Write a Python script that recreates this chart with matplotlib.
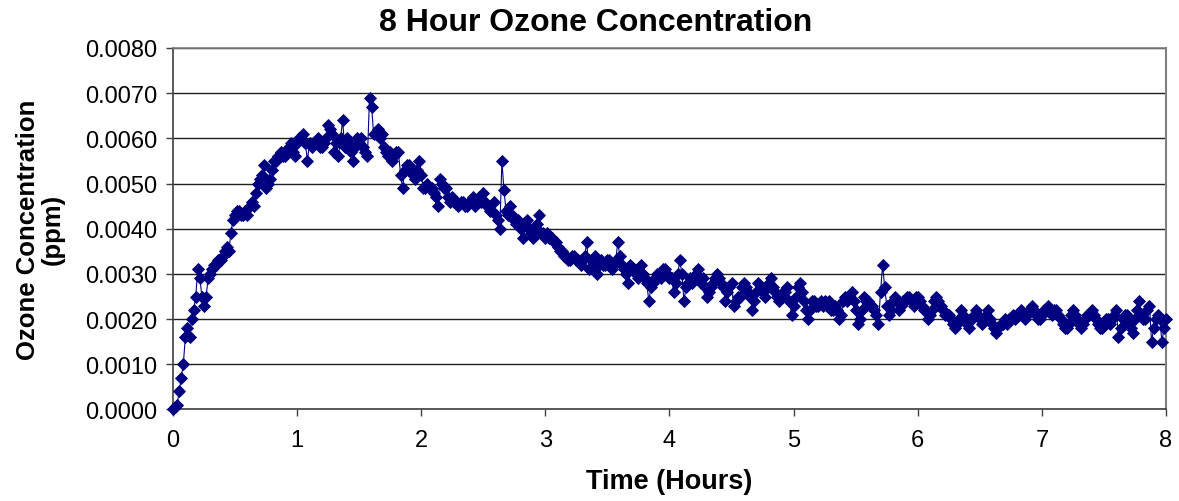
"""Recreate the 8 hour ozone concentration chart (one reading per minute)."""

import matplotlib

matplotlib.use("Agg")
import matplotlib.pyplot as plt
import numpy as np
from matplotlib.axes import Axes

plt.rcParams["font.family"] = ["Liberation Sans", "DejaVu Sans"]

# ozone readings in units of 1e-4 ppm, one per minute from t = 0 to t = 480 min
ozone_e4 = [
    0, 0.5, 1, 4, 7, 10, 16, 18, 16, 20, 22, 25, 31, 29, 25, 23, 25, 29, 30, 31,
    32, 32, 33, 33, 34, 35, 36, 35, 39, 42, 43, 44, 44, 43, 43, 44, 43, 45, 46, 45,
    48, 50, 51, 52, 54, 49, 50, 51, 53, 55, 55, 56, 57, 56, 56, 57, 58, 59, 57, 56,
    59, 60, 60, 61, 59, 55, 59, 58, 59, 59, 60, 58, 58, 59, 60, 63, 62, 61, 57, 59,
    56, 60, 64, 58, 60, 59, 57, 55, 58, 60, 59, 60, 58, 57, 56, 69, 67, 61, 61, 62,
    60, 61, 58, 57, 56, 57, 55, 56, 57, 57, 52, 49, 53, 54, 54, 53, 52, 51, 53, 55,
    52, 49, 49, 50, 49, 49, 48, 47, 45, 51, 50, 49, 49, 47, 46, 47, 46, 46, 45, 46,
    46, 45, 45, 46, 46, 47, 45, 46, 47, 46, 48, 46, 45, 44, 44, 46, 43, 42, 40, 55,
    48.5, 44, 43, 45, 43, 42, 41, 42, 40, 38, 41, 42, 40, 39, 38, 40, 41, 43, 39, 39,
    38, 39, 38, 38, 37, 37, 36, 35, 35, 34, 34, 33, 33, 34, 34, 33, 33, 32, 33, 34,
    37, 31, 33, 32, 34, 30, 32, 33, 32, 32, 33, 33, 31, 32, 33, 37, 34, 32, 31, 30,
    28, 32, 31, 31, 30, 29, 32, 30, 29, 28, 24, 27, 28, 29, 30, 30, 29, 31, 31, 30,
    29, 29, 26, 28, 30, 33, 30, 24, 27, 28, 29, 28, 29, 30, 31, 28, 29, 27, 25, 26,
    27, 28, 29, 30, 29, 28, 27, 24, 26, 27, 28, 23, 24, 25, 25, 27, 28, 27, 26, 25,
    22, 24, 26, 28, 27, 26, 25, 27, 28, 29, 27, 26, 25, 24, 25, 26, 26, 27, 24, 21,
    23, 25, 27, 28, 26, 24, 22, 20, 22, 24, 24, 23, 23, 24, 23, 24, 23, 24, 22, 22,
    23, 22, 20, 21, 24, 25, 24, 25, 26, 24, 22, 19, 20, 22, 25, 24, 24, 23, 23, 22,
    21, 19, 26, 32, 27, 23, 21, 22, 24, 25, 24, 22, 23, 24, 24, 25, 25, 24, 23, 25,
    25, 24, 23, 22, 22, 20, 21, 22, 24, 25, 24, 23, 22, 21, 21, 21, 20, 19, 18, 19,
    20, 22, 21, 20, 19, 18, 20, 21, 22, 21, 20, 19, 20, 21, 22, 20, 19, 18, 17, 18,
    19, 19, 20, 19, 20, 20, 21, 20, 21, 21, 22, 21, 20, 21, 22, 23, 22, 21, 20, 20,
    21, 22, 22, 23, 22, 21, 22, 22, 21, 20, 19, 18, 18, 19, 21, 22, 21, 20, 19, 18,
    19, 20, 21, 21, 22, 21, 20, 19, 18, 18, 19, 20, 20, 19, 20, 21, 22, 16, 18, 20,
    21, 21, 19, 18, 17, 20, 22, 24, 21, 20, 20, 22, 23, 15, 18, 20, 21, 20, 15, 18,
    20,
]
minutes = list(range(len(ozone_e4)))
x_ticks = [0, 1, 2, 3, 4, 5, 6, 7, 8]
y_ticks = [0.0, 0.001, 0.002, 0.003, 0.004, 0.005, 0.006, 0.007, 0.008]

NAVY = "#000080"


def configure_axes(ax: Axes) -> None:
    """Excel-like look: horizontal grid, outward ticks, grey frame."""
    ax.set_xlim(0, 8)
    ax.set_ylim(0, 0.008)
    ax.set_xticks(x_ticks)
    ax.set_yticks(y_ticks, labels=[f"{t:.4f}" for t in y_ticks])
    ax.tick_params(direction="out", length=5, width=1, color="#404040",
                   labelsize=17)
    ax.tick_params(axis="x", pad=9)
    ax.tick_params(axis="y", pad=6)
    ax.grid(axis="y", color="#202020", linewidth=1.0)
    ax.set_axisbelow(True)
    for side in ["left", "bottom"]:
        ax.spines[side].set_color("#404040")
        ax.spines[side].set_linewidth(1.2)
    ax.spines["right"].set_color("#808080")
    ax.spines["right"].set_linewidth(1.5)
    ax.spines["top"].set_color("#808080")
    ax.spines["top"].set_linewidth(1.2)


def main():
    """Draw the ozone series and save it to out.png."""
    hours = np.array(minutes) / 60.0
    ozone = np.array(ozone_e4) * 1e-4

    fig = plt.figure(figsize=(11.79, 5.02), dpi=100)
    ax = fig.add_axes([0.1467, 0.1823, 0.8423, 0.7201])
    ax.plot(hours, ozone, color=NAVY, linewidth=0.8, marker="D",
            markersize=5.8, markeredgewidth=0.6, clip_on=False, zorder=3)
    configure_axes(ax)

    fig.text(0.505, 0.954, "8 Hour Ozone Concentration", fontweight="bold",
             fontsize=23, ha="center", va="center")
    ax.set_xlabel("Time (Hours)", fontweight="bold", fontsize=19.5, labelpad=12)
    ax.set_ylabel("Ozone Concentration\n(ppm)", fontweight="bold",
                  fontsize=18.5, labelpad=15, linespacing=1.05)

    fig.savefig("out.png", dpi=100)


if __name__ == "__main__":
    main()
